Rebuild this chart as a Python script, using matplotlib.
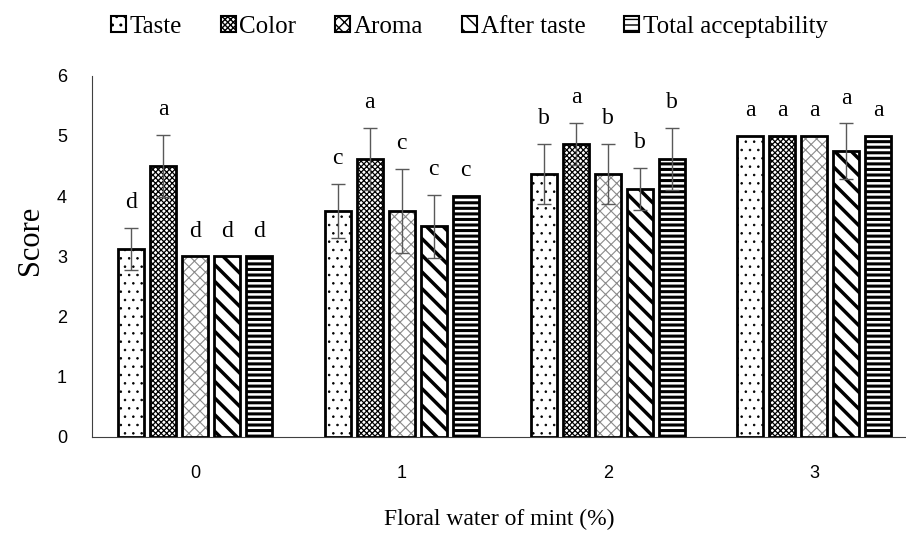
import matplotlib.pyplot as plt
import numpy as np

# data
levels = ['0', '1', '2', '3']
attributes = ['Taste', 'Color', 'Aroma', 'After taste', 'Total acceptability']

taste = [3.12, 3.75, 4.37, 5.0]
color = [4.50, 4.62, 4.87, 5.0]
aroma = [3.0, 3.75, 4.37, 5.0]
after_taste = [3.0, 3.50, 4.12, 4.75]
total = [3.0, 4.0, 4.62, 5.0]

taste_err = [0.35, 0.45, 0.50, 0.0]
color_err = [0.52, 0.52, 0.35, 0.0]
aroma_err = [0.0, 0.70, 0.50, 0.0]
after_taste_err = [0.0, 0.52, 0.35, 0.46]
total_err = [0.0, 0.0, 0.52, 0.0]

taste_lbl = ['d', 'c', 'b', 'a']
color_lbl = ['a', 'a', 'a', 'a']
aroma_lbl = ['d', 'c', 'b', 'a']
after_taste_lbl = ['d', 'c', 'b', 'a']
total_lbl = ['d', 'c', 'b', 'a']

values = [taste, color, aroma, after_taste, total]
errors = [taste_err, color_err, aroma_err, after_taste_err, total_err]
letters = [taste_lbl, color_lbl, aroma_lbl, after_taste_lbl, total_lbl]

# hatch styles: (hatch, hatch colour, hatch linewidth)
styles = [('..', 'black', 0.6),
          ('xxxxxx', 'black', 0.9),
          ('xxx', '#8a8a8a', 0.8),
          ('\\\\', 'black', 2.5),
          ('---', 'black', 2.2)]

serif = ['Liberation Serif', 'DejaVu Serif']
sans = ['Liberation Sans', 'DejaVu Sans']


def set_hlw(patches, lw):
    # per-bar hatch width where matplotlib supports it
    for p in patches:
        if hasattr(p, 'set_hatch_linewidth'):
            p.set_hatch_linewidth(lw)


fig = plt.figure(figsize=(9.06, 5.34), dpi=100)
ax = fig.add_axes([0.1015, 0.182, 0.9, 0.676])

x = np.arange(len(levels))
width = 0.126
pitch = 0.155

handles = []
for i, name in enumerate(attributes):
    pos = x + (i - 2) * pitch
    hatch, hcol, hlw = styles[i]
    plt.rcParams['hatch.linewidth'] = hlw
    # hatched fill first, then black outline on top
    b = ax.bar(pos, values[i], width, color='white', edgecolor=hcol,
               hatch=hatch, linewidth=0, zorder=2)
    set_hlw(b, hlw)
    ax.bar(pos, values[i], width, color='none', edgecolor='black',
           linewidth=2, zorder=3)
    h = ax.bar([0], [0], 0, color='white', edgecolor='black', hatch=hatch,
               linewidth=1.5, label=name)
    set_hlw(h, min(hlw, 1.2))
    handles.append(h)
    err = np.array(errors[i])
    has_err = err > 0
    ax.errorbar(pos[has_err], np.array(values[i])[has_err], yerr=err[has_err],
                fmt='none', ecolor='#595959', elinewidth=1, capsize=5,
                capthick=1, zorder=4)
    for p, v, e, t in zip(pos, values[i], errors[i], letters[i]):
        ax.text(p, v + e + 0.42, t, ha='center', va='center',
                fontsize=17, family=serif)

plt.rcParams['hatch.linewidth'] = 1.0

ax.set_xlim(-0.5, 3.45)
ax.set_ylim(0, 6)
ax.set_xticks(x)
ax.set_xticklabels(levels, family=sans, fontsize=13)
ax.set_yticks(range(0, 7))
ax.set_yticklabels([str(v) for v in range(0, 7)], family=sans, fontsize=13)
ax.tick_params(axis='x', length=0, pad=20)
ax.tick_params(axis='y', length=0, pad=18)
ax.spines['top'].set_visible(False)
ax.spines['right'].set_visible(False)
ax.spines['left'].set_color('#404040')
ax.spines['bottom'].set_color('#404040')
ax.set_ylabel('Score', family=serif, fontsize=22)
ax.yaxis.set_label_coords(-0.058, 0.545)
ax.set_xlabel('Floral water of mint (%)', family=serif, fontsize=17, labelpad=20)

fig.legend(handles=handles, loc='upper center', bbox_to_anchor=(0.518, 1.012),
           ncol=5, frameon=False, prop={'family': serif, 'size': 18},
           handlelength=0.6, handleheight=0.6, handletextpad=0.15,
           columnspacing=1.55)

fig.savefig('out.png', dpi=100)
